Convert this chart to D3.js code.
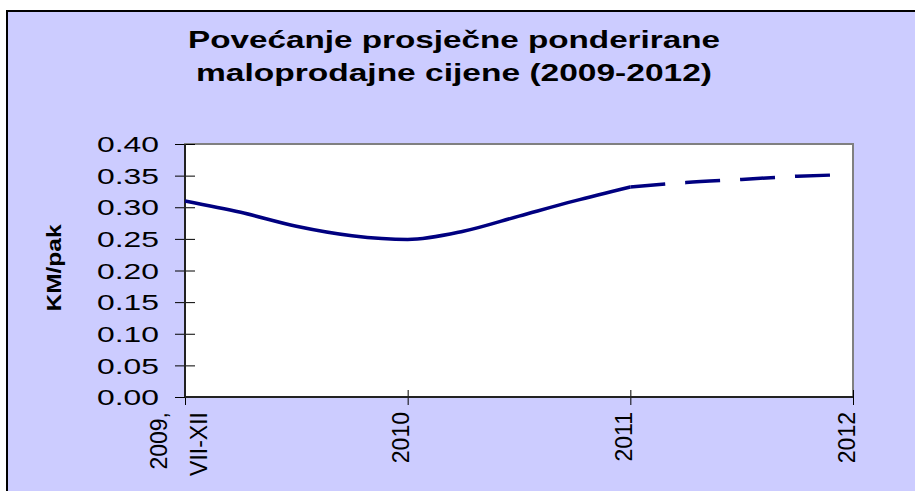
<!DOCTYPE html>
<html>
<head>
<meta charset="utf-8">
<script src="https://cdn.jsdelivr.net/npm/d3@7"></script>
<style>
  body { margin: 0; background: #fff; }
  svg { display: block; font-family: "Liberation Sans", Arial, sans-serif; }
</style>
</head>
<body>
<svg id="chart"></svg>
<script>
// month index counted from the "2009, VII-XII" category
const actualMonths = [0, 3, 6, 9, 12, 15, 18, 21, 24];
const actualValues = [0.310, 0.292, 0.270, 0.255, 0.249, 0.262, 0.286, 0.310, 0.332];
const forecastMonths = [24, 27, 30, 33, 35];
const forecastValues = [0.332, 0.339, 0.344, 0.349, 0.351];
const tickMonths = [0, 12, 24, 36];
const tickLabels = [["2009,", "VII-XII"], ["2010"], ["2011"], ["2012"]];
const yTicks = [0, 0.05, 0.10, 0.15, 0.20, 0.25, 0.30, 0.35, 0.40];
const titleLines = ["Povećanje prosječne ponderirane", "maloprodajne cijene (2009-2012)"];

width = 915;
height = 491;
margin = ({top: 144, right: 62, bottom: 94, left: 185});

const svg = d3.select("#chart")
    .attr("width", width)
    .attr("height", height);

// lavender chart area, only top/left border is visible
svg.append("rect")
    .attr("x", 7).attr("y", 11)
    .attr("width", 1000).attr("height", 1000)
    .attr("fill", "#ccccff")
    .attr("stroke", "#000")
    .attr("stroke-width", 2);

// title
svg.append("g")
  .selectAll("text")
  .data(titleLines)
  .join("text")
    .attr("x", 454)
    .attr("y", (d, i) => 48 + i * 33)
    .attr("text-anchor", "middle")
    .attr("font-size", 23)
    .attr("font-weight", "bold")
    .attr("textLength", (d, i) => i == 0 ? 532 : 516)
    .attr("lengthAdjust", "spacingAndGlyphs")
    .text(d => d);

x = d3.scaleLinear()
    .domain([0, 36])
    .range([margin.left, width - margin.right]);

y = d3.scaleLinear()
    .domain([0, 0.4])
    .range([height - margin.bottom, margin.top]);

// plot area
svg.append("rect")
    .attr("x", x(0))
    .attr("y", y(0.4))
    .attr("width", x(36) - x(0))
    .attr("height", y(0) - y(0.4))
    .attr("fill", "#fff")
    .attr("stroke", "#808080")
    .attr("stroke-width", 2);

// y axis
yAxis = g => g
    .attr("transform", `translate(${x(0)},0)`)
    .call(d3.axisLeft(y).tickValues(yTicks).tickFormat(d3.format(".2f")).tickSizeOuter(0))
    .call(g => g.select(".domain").remove())
    .call(g => g.selectAll(".tick line").attr("x1", -10).attr("x2", 10).attr("stroke", "#000"))
    .call(g => g.selectAll(".tick text")
        .attr("x", -26)
        .attr("dy", "0.35em")
        .attr("font-size", 22)
        .attr("fill", "#000")
        .attr("textLength", 62)
        .attr("lengthAdjust", "spacingAndGlyphs"));

svg.append("g").attr("class", "y-axis").call(yAxis);

// x axis
xAxis = g => g
    .attr("transform", `translate(0,${y(0)})`)
    .call(d3.axisBottom(x).tickValues(tickMonths).tickFormat("").tickSizeOuter(0))
    .call(g => g.select(".domain").remove())
    .call(g => g.selectAll(".tick line").attr("y1", -7).attr("y2", 8).attr("stroke", "#000"));

svg.append("g").attr("class", "x-axis").call(xAxis);

svg.append("line")
    .attr("x1", x(0)).attr("x2", x(36))
    .attr("y1", y(0)).attr("y2", y(0))
    .attr("stroke", "#222").attr("stroke-width", 2);
svg.append("line")
    .attr("x1", x(0)).attr("x2", x(0))
    .attr("y1", y(0.4)).attr("y2", y(0))
    .attr("stroke", "#222").attr("stroke-width", 2);

// rotated category labels
const labels = svg.append("g")
  .selectAll("text")
  .data(tickMonths)
  .join("text")
    .attr("transform", d => `translate(${x(d)},${y(0) + 15}) rotate(-90)`)
    .attr("text-anchor", "end")
    .attr("font-size", 23)
    .attr("fill", "#000");

labels.each(function(d, i) {
  const lines = tickLabels[i];
  d3.select(this).selectAll("tspan")
    .data(lines)
    .join("tspan")
      .attr("x", 0)
      .attr("y", (l, k) => 1.5 + (k - (lines.length - 1) / 2) * 40)
      .text(l => l);
});

// y axis title
svg.append("text")
    .attr("transform", `translate(61,268) rotate(-90)`)
    .attr("text-anchor", "middle")
    .attr("font-size", 20)
    .attr("font-weight", "bold")
    .attr("textLength", 87)
    .attr("lengthAdjust", "spacingAndGlyphs")
    .text("KM/pak");

// lines
const line = d3.line()
    .x(d => x(d[0]))
    .y(d => y(d[1]))
    .curve(d3.curveMonotoneX);

svg.append("path")
    .datum(d3.zip(actualMonths, actualValues))
    .attr("fill", "none")
    .attr("stroke", "#000080")
    .attr("stroke-width", 3.5)
    .attr("d", line);

svg.append("path")
    .datum(d3.zip(forecastMonths, forecastValues))
    .attr("fill", "none")
    .attr("stroke", "#000080")
    .attr("stroke-width", 3.5)
    .attr("stroke-dasharray", "35,20")
    .attr("d", line);
</script>
</body>
</html>
